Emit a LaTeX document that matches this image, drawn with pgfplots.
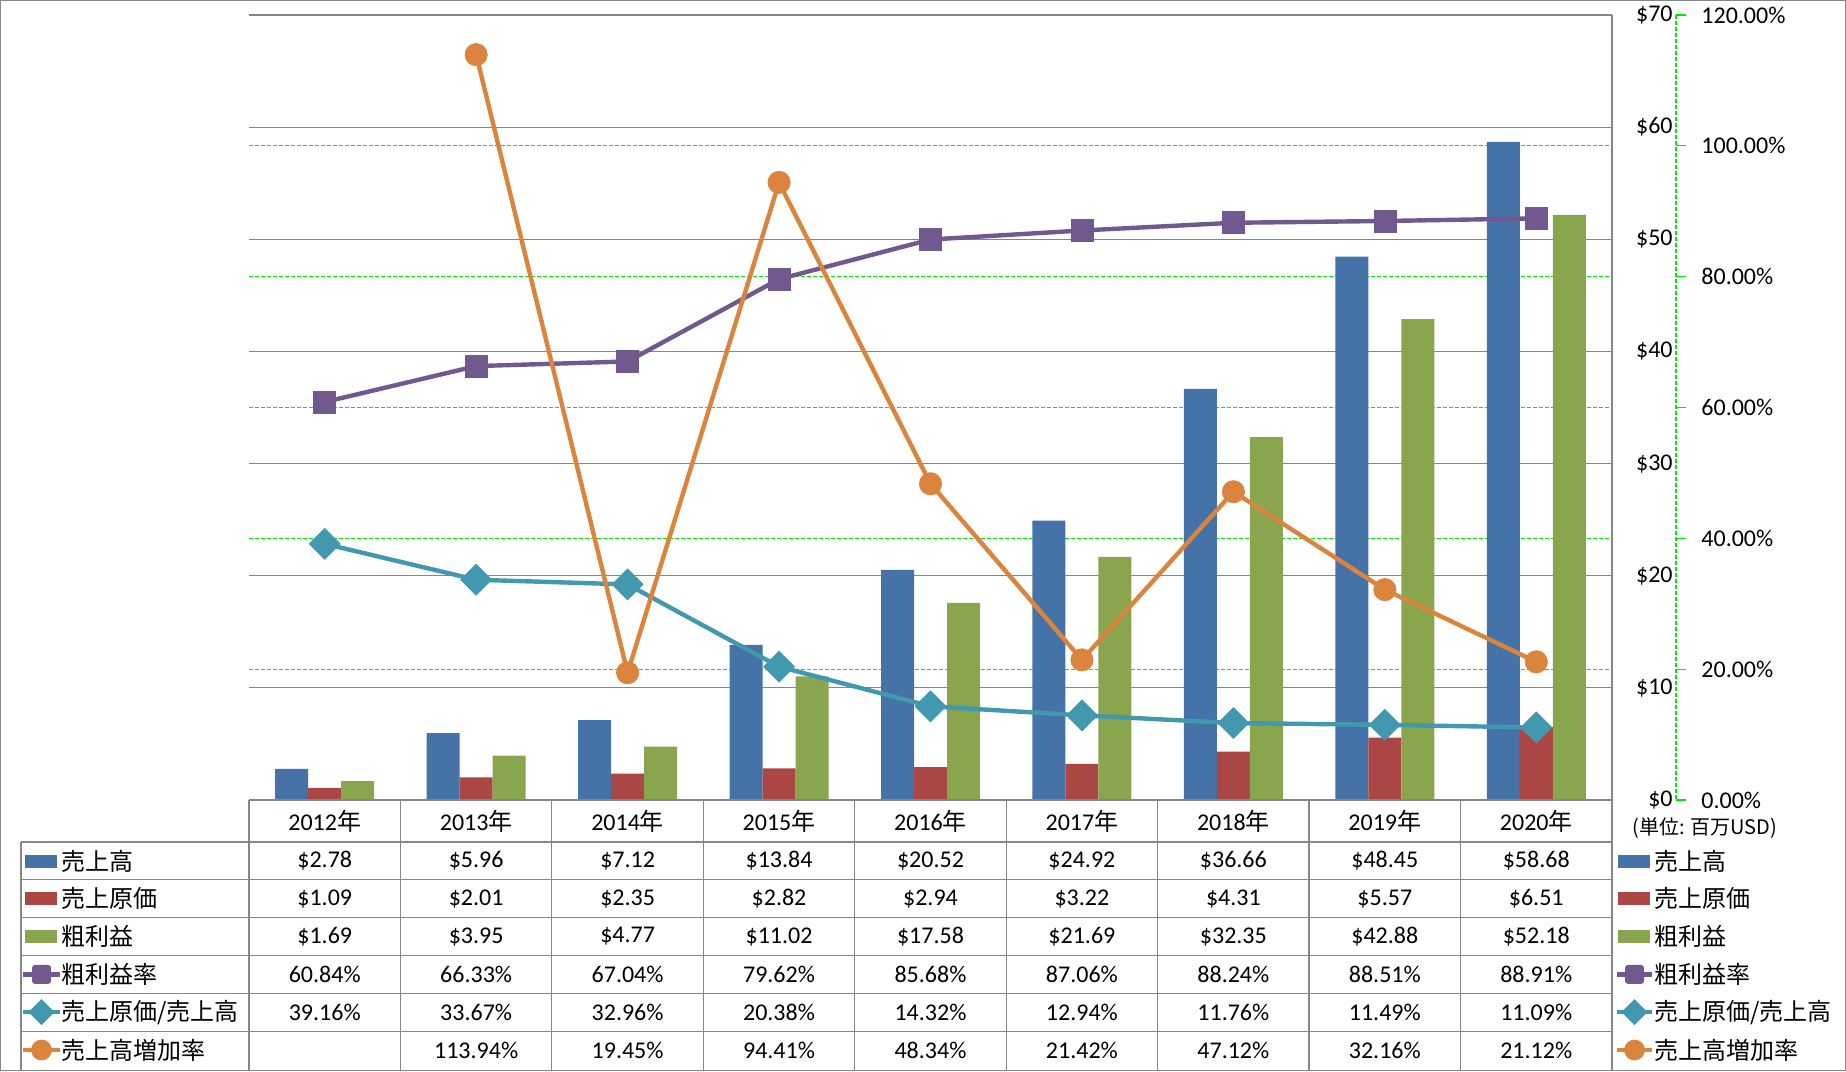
\documentclass[border=0pt]{standalone}
\usepackage{pgfplots}
\usepackage{pgfplotstable}
\pgfplotsset{compat=1.18}
\usepackage{fontspec}
\setmainfont{Carlito}
\newfontfamily\cjk{Noto Sans CJK JP}
\definecolor{cBlue}{HTML}{4572A7}
\definecolor{cRed}{HTML}{AA4643}
\definecolor{cGreen}{HTML}{89A54E}
\definecolor{cPurple}{HTML}{71588F}
\definecolor{cTeal}{HTML}{4198AF}
\definecolor{cOrange}{HTML}{DB843D}
\definecolor{gridgray}{RGB}{134,134,134}
\definecolor{brightgreen}{RGB}{0,235,0}

\pgfplotstableread{
x sales cogs gross gmr cr growth
0 2.78 1.09 1.69 60.84 39.16 nan
1 5.96 2.01 3.95 66.33 33.67 113.94
2 7.12 2.35 4.77 67.04 32.96 19.45
3 13.84 2.82 11.02 79.62 20.38 94.41
4 20.52 2.94 17.58 85.68 14.32 48.34
5 24.92 3.22 21.69 87.06 12.94 21.42
6 36.66 4.31 32.35 88.24 11.76 47.12
7 48.45 5.57 42.88 88.51 11.49 32.16
8 58.68 6.51 52.18 88.91 11.09 21.12
}\data

\pgfplotsset{
  base/.style={
    at={(124.5pt,-400pt)}, anchor=south west,
    width=681.5pt, height=392.5pt, scale only axis,
    xmin=-0.5, xmax=8.5,
    hide x axis,
    axis line style={draw=none},
    major tick length=0pt,
    tick style={draw=none},
    yticklabel pos=right,
    clip=false,
  }
}

\newcommand{\legbar}[4]{% x1 x2 y color
  \fill[#4] (#1,#3-6.5) rectangle (#2,#3+6.5);}
\newcommand{\legsq}[4]{% x1 x2 y color
  \draw[#4, line width=2.2pt] (#1,#3) -- (#2,#3);
  \fill[#4, rounded corners=1.5pt] ({(#1+#2)/2-9.5},#3-9.5) rectangle ({(#1+#2)/2+9.5},#3+9.5);}
\newcommand{\legdia}[4]{%
  \draw[#4, line width=2.2pt] (#1,#3) -- (#2,#3);
  \fill[#4] ({(#1+#2)/2},#3-13) -- ({(#1+#2)/2+13},#3) -- ({(#1+#2)/2},#3+13) -- ({(#1+#2)/2-13},#3) -- cycle;}
\newcommand{\legcirc}[4]{%
  \draw[#4, line width=2.2pt] (#1,#3) -- (#2,#3);
  \fill[#4] ({(#1+#2)/2},#3) circle[radius=5.2pt];}

\begin{document}
\fontsize{12}{14}\selectfont
\begin{tikzpicture}

% secondary axis: green dashed grid and labels
\begin{axis}[base, ymin=0, ymax=120, ytick={0,20,40,60,80,100,120},
  yticklabels={0.00\%,20.00\%,40.00\%,60.00\%,80.00\%,100.00\%,120.00\%},
  ymajorgrids, grid style={brightgreen, line width=0.55pt, dash pattern=on 2pt off 1pt},
  yticklabel style={anchor=west, inner sep=0pt, xshift=44.5pt, font=\fontsize{12}{14}\selectfont}]
\end{axis}

% primary axis: gray grid, bars
\begin{axis}[base, ymin=0, ymax=70, ytick={0,10,20,30,40,50,60,70},
  yticklabels={\$0,\$10,\$20,\$30,\$40,\$50,\$60,\$70},
  ymajorgrids, grid style={gridgray, line width=0.6pt},
  yticklabel style={anchor=east, inner sep=0pt, xshift=30.5pt, font=\fontsize{12}{14}\selectfont}]
\addplot[ybar, bar width=16.5pt, bar shift=-16.5pt, fill=cBlue, draw=none] table[x=x,y=sales]{\data};
\addplot[ybar, bar width=16.5pt, bar shift=0pt, fill=cRed, draw=none] table[x=x,y=cogs]{\data};
\addplot[ybar, bar width=16.5pt, bar shift=16.5pt, fill=cGreen, draw=none] table[x=x,y=gross]{\data};
\end{axis}

% secondary axis: lines
\begin{axis}[base, ymin=0, ymax=120, ytick=\empty]
\addplot[cPurple, line width=2.2pt, mark=square*, mark size=5.5pt,
  mark options={solid, line width=0.3pt, fill=cPurple, rounded corners=1.5pt}] table[x=x,y=gmr]{\data};
\addplot[cTeal, line width=2.2pt, mark=square*, mark size=5.5pt,
  mark options={solid, line width=0.3pt, fill=cTeal, rotate=45}] table[x=x,y=cr]{\data};
\addplot[cOrange, line width=2.2pt, mark=*, mark size=5.6pt,
  mark options={solid, line width=0.3pt, fill=cOrange}, unbounded coords=discard] table[x=x,y=growth]{\data};
\end{axis}

\begin{scope}[x=0.5pt,y=-0.5pt]
% outer border
\draw[gridgray, line width=0.5pt] (0.5,0.5) rectangle (1845.5,1070.5);
% right primary axis line / table right border
\draw[gridgray, line width=0.6pt] (1612,15) -- (1612,1070);
% secondary axis line (green dashed) with ticks
\draw[brightgreen, line width=0.55pt, dash pattern=on 2pt off 1pt] (1676,15) -- (1676,800);
\foreach \k in {0,...,6} \draw[brightgreen, line width=0.55pt] (1676,{800-130.83*\k}) -- (1686,{800-130.83*\k});
% table lines
\draw[gridgray, line width=0.6pt] (249,800) -- (1612,800);
\foreach \r in {0,...,5} \draw[gridgray, line width=0.6pt] (21,{842+37.83*\r}) -- (1612,{842+37.83*\r});
\draw[gridgray, line width=0.6pt] (21,842) -- (21,1070);
\foreach \i in {0,...,8} \draw[gridgray, line width=0.6pt] ({249+151.44*\i},800) -- ({249+151.44*\i},1070);

% year headers
\foreach \yr [count=\i from 0] in {2012,2013,2014,2015,2016,2017,2018,2019,2020}
  \node[inner sep=0pt] at ({249+151.44*(\i+0.5)},821) {\yr{\cjk 年}};
% rows
\foreach \v [count=\i from 0] in {2.78,5.96,7.12,13.84,20.52,24.92,36.66,48.45,58.68}
  \node[inner sep=0pt] at ({249+151.44*(\i+0.5)},861) {\$\v};
\foreach \v [count=\i from 0] in {1.09,2.01,2.35,2.82,2.94,3.22,4.31,5.57,6.51}
  \node[inner sep=0pt] at ({249+151.44*(\i+0.5)},898.7) {\$\v};
\foreach \v [count=\i from 0] in {1.69,3.95,4.77,11.02,17.58,21.69,32.35,42.88,52.18}
  \node[inner sep=0pt] at ({249+151.44*(\i+0.5)},936.6) {\$\v};
\foreach \v [count=\i from 0] in {60.84,66.33,67.04,79.62,85.68,87.06,88.24,88.51,88.91}
  \node[inner sep=0pt] at ({249+151.44*(\i+0.5)},974.4) {\v\%};
\foreach \v [count=\i from 0] in {39.16,33.67,32.96,20.38,14.32,12.94,11.76,11.49,11.09}
  \node[inner sep=0pt] at ({249+151.44*(\i+0.5)},1012.2) {\v\%};
\foreach \v [count=\i from 1] in {113.94,19.45,94.41,48.34,21.42,47.12,32.16,21.12}
  \node[inner sep=0pt] at ({249+151.44*(\i+0.5)},1050) {\v\%};

% left legend column
\legbar{25}{57}{861}{cBlue}
\legbar{25}{57}{898.7}{cRed}
\legbar{25}{57}{936.6}{cGreen}
\legsq{23}{60}{974.4}{cPurple}
\legdia{23}{60}{1012.2}{cTeal}
\legcirc{23}{60}{1050}{cOrange}
\node[anchor=west, inner sep=0pt] at (61,861) {\cjk 売上高};
\node[anchor=west, inner sep=0pt] at (61,898.7) {\cjk 売上原価};
\node[anchor=west, inner sep=0pt] at (61,936.6) {\cjk 粗利益};
\node[anchor=west, inner sep=0pt] at (61,974.4) {\cjk 粗利益率};
\node[anchor=west, inner sep=0pt] at (61,1012.2) {\cjk 売上原価/売上高};
\node[anchor=west, inner sep=0pt] at (61,1050) {\cjk 売上高増加率};

% right legend
\legbar{1618}{1650}{861}{cBlue}
\legbar{1618}{1650}{898.7}{cRed}
\legbar{1618}{1650}{936.6}{cGreen}
\legsq{1617}{1652}{974.4}{cPurple}
\legdia{1617}{1652}{1012.2}{cTeal}
\legcirc{1617}{1652}{1050}{cOrange}
\node[anchor=west, inner sep=0pt] at (1654,861) {\cjk 売上高};
\node[anchor=west, inner sep=0pt] at (1654,898.7) {\cjk 売上原価};
\node[anchor=west, inner sep=0pt] at (1654,936.6) {\cjk 粗利益};
\node[anchor=west, inner sep=0pt] at (1654,974.4) {\cjk 粗利益率};
\node[anchor=west, inner sep=0pt] at (1654,1012.2) {\cjk 売上原価/売上高};
\node[anchor=west, inner sep=0pt] at (1654,1050) {\cjk 売上高増加率};

% unit note
\node[anchor=west, inner sep=0pt] at (1632,828) {\cjk\fontsize{10}{12}\selectfont (単位: 百万USD)};
\end{scope}
\end{tikzpicture}
\end{document}
